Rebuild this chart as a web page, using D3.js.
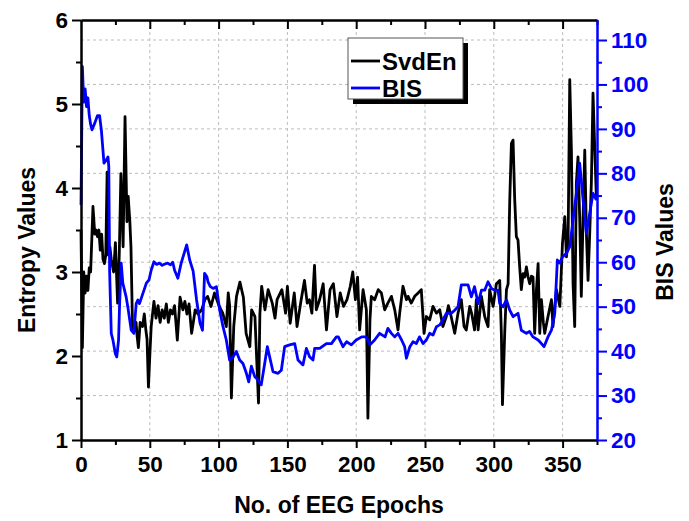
<!DOCTYPE html>
<html><head><meta charset="utf-8">
<script src="https://cdn.jsdelivr.net/npm/d3@7"></script>
<style>
body{margin:0;background:#fff}
svg{display:block}
text{font-family:"Liberation Sans",Arial,sans-serif;font-weight:bold}
</style>
</head><body>
<svg id="chart" width="689" height="521"></svg>
<script>
// ---------- data ----------
const svdEpochs = [0,1,2,3,4,5,6,7,8.7,10,11,12,13,14,15,16,17,18,19,20,21,22,23.7,25,26.6,27.8,29,30.6,32,33.4,34.3,35.5,36.3,37.5,38.8,40,40.7,41.7,43,44.7,46,47.2,48,49,50,51,53,54.5,56,57.5,59,60.5,62,63.5,65,66.5,68,70,72,74,75.5,77,78.5,80.4,83,85,87.7,90,92,94.5,97,100.5,103,105.6,107,108,109.3,111,113,115.5,118,120,122.7,124,126.4,129,130,131.3,133.7,136,139,141,142.5,146,148.7,150,152,155,157,160,162.4,164.4,166,167.8,169.7,171,173.4,176,178.4,181,183.4,186,188.4,190.8,193.3,195.7,197.5,199.4,201,202.5,205,207.4,208.5,210,211,213.4,216,218.3,220.7,223,225.6,228,230.4,231.6,234,236.5,237.7,240,242.5,245,247.3,249.3,251,253.4,255.8,258.3,260.7,263,265.5,267,269,271.6,274,276.4,278.4,280,282.5,284,286,287.3,288.6,291,293.4,295.8,297,299.5,301.9,304.3,305.5,306.3,308,309.2,310.4,311.6,312.8,314,315.2,316.4,317.6,318.8,320,321.3,322.5,323.7,324.9,326.1,327.3,328.5,329.7,331,332.2,333.4,334.6,336,337,339.4,341.9,343,345.5,348,349.9,351.6,352.8,354,355.2,356.4,357.6,358.8,360,361.2,362.4,363.6,364.9,366.1,367.3,368.5,369.7,370.9,372.1,373.4,374.6];
const svdValues = [3.5,2.1,3.0,2.75,2.95,2.78,3.05,3.0,3.78,3.45,3.5,3.42,3.5,3.26,3.45,3.15,3.1,3.2,4.19,3.2,3.3,3.15,3.0,3.35,2.63,3.2,4.17,3.3,4.85,3.6,3.9,3.6,3.3,2.31,2.3,2.4,2.25,2.1,2.4,2.35,2.5,2.3,2.2,1.63,2.0,2.35,2.65,2.45,2.6,2.4,2.55,2.45,2.62,2.4,2.55,2.5,2.6,2.19,2.7,2.55,2.65,2.5,2.62,2.27,2.55,2.5,2.55,2.67,2.71,2.59,2.75,2.59,2.51,2.35,2.75,2.6,1.5,2.35,2.71,2.88,2.7,2.27,2.11,2.55,2.47,1.44,2.5,2.83,2.55,2.79,2.63,2.45,2.67,2.79,2.51,2.83,2.39,2.75,2.35,2.67,2.9,2.63,2.67,2.51,3.08,2.55,2.67,2.86,2.31,2.79,2.86,2.47,2.75,2.59,2.67,2.83,3.0,2.67,2.94,2.31,2.79,2.55,1.26,2.43,2.71,2.67,2.79,2.75,2.55,2.63,2.71,2.55,2.31,2.51,2.83,2.67,2.71,2.63,2.71,2.75,2.79,2.27,2.47,2.43,2.59,2.51,2.55,2.35,2.47,2.6,2.47,2.27,2.51,2.67,2.35,2.31,2.59,2.5,2.31,2.67,2.31,2.71,2.47,2.35,2.79,2.59,2.86,2.9,2.27,1.42,2.31,2.79,2.86,3.86,4.53,4.57,3.86,3.42,3.38,3.06,2.79,2.98,2.94,3.06,2.94,2.86,2.95,2.94,2.27,2.79,3.1,2.27,2.67,2.4,2.27,2.47,2.67,2.35,2.79,2.59,3.34,3.66,3.18,3.38,5.29,4.45,2.86,2.35,4.06,4.37,3.66,2.71,3.66,4.45,3.46,2.9,3.46,4.06,5.13,4.45,3.86];

const bisEpochs = [0,1,2,3,4,5,6,7,8,10,12,13.5,14.8,16.7,18.4,19.6,20.2,20.8,22,23.2,24.9,26,27.3,28,29.2,30.4,32.8,34,36.5,38.4,40.1,41.3,42.5,45,47.5,49.4,51,53,55,57,59,61,63,65,66.7,68,70.4,72.8,76.8,79,81.5,84,86.5,88.3,89.8,91.5,92.3,94,96,98.4,100.8,103.2,105.6,108,110.5,112.9,115.3,117.7,120.2,121.9,123.8,126.2,128.6,131,133.5,135.4,137.1,139.5,143.2,145.6,148,151.6,155.3,157.7,161.3,163.8,166.2,168.6,169.8,173.5,178.3,182,185.6,187,190.4,193,196.5,200,204,207.4,210,213.4,217,221,223,225.6,228,230.4,233,235.2,236.5,239,241.3,243.7,246,248.6,251,253.4,255.8,258.3,260.7,263,265.5,269,271.6,274,276.4,279,281.3,283.7,286,288.6,291,293.4,295.8,298.3,300.7,303.1,304.3,306.7,309.2,311.6,314,317.6,320,323.7,326,328.5,332.2,334.6,336.5,339.4,341.9,344.3,346.2,348,349.9,352.8,355.2,357.6,360,362.4,364.9,367.3,369.7,372.1,374.6];
const bisValues = [72.9,104,96,99,95,97,93,91,89.8,91.3,93,93,89.7,82.3,83,83.7,81.5,58,44,42.5,39.5,38.7,42.5,50,59.8,55.3,52.2,50,44.7,44,50.7,51.5,50.7,53,55.3,56,58.2,60.1,59.5,59.8,59.3,59.6,59.8,59.4,60,58.2,56.4,59.8,63.9,60.5,58,51.5,46.3,44.7,57.5,56.7,55.6,54.5,54.1,54.5,49.2,45.5,42.5,38,38.7,39.9,38,37.2,35,33.1,36.6,34.3,33.5,32.4,37.2,41,38.7,35.4,35,35.7,41,41.4,41.7,38,36.9,40.6,38.7,38,40.6,40.6,41.7,41.7,43.2,43.2,41,42.1,41.4,42.5,43.2,43.2,41.4,42.5,44,43.2,45.1,44,43.2,44,42.5,41,38.4,41,42.1,41.7,43.2,41.7,42.5,44,43.6,45.5,45.9,47,48.5,48.5,49.2,50,54.9,54.9,54.9,52.2,54.5,50.7,53.7,53.7,55.6,54.1,53.7,53.7,50.7,50,51.5,49.2,47.75,48.5,44.7,44,44.4,43.2,42.5,41.7,41,43.2,44.7,48.5,60.5,59.8,61.2,62,63.5,69.5,75.5,82.3,74,66.5,71,75.5,74];

const xTicks = [0,50,100,150,200,250,300,350];
const xMinorTicks = [25,75,125,175,225,275,325,375];
const leftTicks = [1,2,3,4,5,6];
const leftMinorTicks = [1.5,2.5,3.5,4.5,5.5];
const rightTicks = [20,30,40,50,60,70,80,90,100,110];
const rightMinorTicks = [25,35,45,55,65,75,85,95,105];
const seriesNames = ["SvdEn","BIS"];

// ---------- layout ----------
const L = 81, R = 597, T = 20, B = 440;
const BLUE = "#0000ff";
const FF = '"Liberation Sans",Arial,sans-serif';
const svg = d3.select("#chart");

const x = d3.scaleLinear().domain([0,375]).range([L,R]);
const yL = d3.scaleLinear().domain([1,6]).range([B,T]);
const yR = d3.scaleLinear().domain([20,114.5]).range([B,T]);

// grid
const grid = svg.append("g").attr("stroke","#bdbdbd").attr("stroke-width",1).attr("stroke-dasharray","3,3");
grid.selectAll("line.v").data(xTicks.slice(1)).join("line")
  .attr("x1",d=>x(d)).attr("x2",d=>x(d)).attr("y1",T).attr("y2",B);
grid.selectAll("line.h").data(rightTicks.slice(1)).join("line")
  .attr("x1",L).attr("x2",R).attr("y1",d=>yR(d)).attr("y2",d=>yR(d));

// lines
const svdData = svdEpochs.map((e,i)=>[e,svdValues[i]]);
const bisData = bisEpochs.map((e,i)=>[e,bisValues[i]]);
svg.append("path").datum(svdData)
  .attr("fill","none").attr("stroke","#000").attr("stroke-width",2.8).attr("stroke-linejoin","round")
  .attr("d", d3.line().x(d=>x(d[0])).y(d=>yL(d[1])));
svg.append("path").datum(bisData)
  .attr("fill","none").attr("stroke",BLUE).attr("stroke-width",2.8).attr("stroke-linejoin","round")
  .attr("d", d3.line().x(d=>x(d[0])).y(d=>yR(d[1])));

// axes
function style(g, color, fs){
  g.select(".domain").attr("stroke",color).attr("stroke-width",2);
  g.selectAll(".tick line").attr("stroke",color).attr("stroke-width",2);
  g.selectAll(".tick text").attr("fill",color).style("font-size",fs+"px")
    .style("font-family",FF).style("font-weight","bold");
}
const fmt = d3.format("d");
// bottom
const gb = svg.append("g").attr("transform",`translate(0,${B})`)
  .call(d3.axisBottom(x).tickValues(xTicks).tickFormat(fmt).tickSize(8).tickPadding(8).tickSizeOuter(0));
style(gb,"#000",22.5);
const gbm = svg.append("g").attr("transform",`translate(0,${B})`)
  .call(d3.axisBottom(x).tickValues(xMinorTicks).tickSize(5).tickFormat("").tickSizeOuter(0));
style(gbm,"#000",22);
// top (inward ticks)
const gt = svg.append("g").attr("transform",`translate(0,${T})`)
  .call(d3.axisTop(x).tickValues(xTicks.slice(1)).tickSize(-9).tickFormat("").tickSizeOuter(0));
style(gt,"#000",22);
const gtm = svg.append("g").attr("transform",`translate(0,${T})`)
  .call(d3.axisTop(x).tickValues(xMinorTicks).tickSize(-5).tickFormat("").tickSizeOuter(0));
style(gtm,"#000",22);
// left
const gl = svg.append("g").attr("transform",`translate(${L},0)`)
  .call(d3.axisLeft(yL).tickValues(leftTicks).tickFormat(fmt).tickSize(9).tickPadding(4).tickSizeOuter(0));
style(gl,"#000",22.5);
const glm = svg.append("g").attr("transform",`translate(${L},0)`)
  .call(d3.axisLeft(yL).tickValues(leftMinorTicks).tickSize(5).tickFormat("").tickSizeOuter(0));
style(glm,"#000",22);
// right
const gr = svg.append("g").attr("transform",`translate(${R},0)`)
  .call(d3.axisRight(yR).tickValues(rightTicks).tickFormat(fmt).tickSize(10).tickPadding(4).tickSizeOuter(0));
style(gr,BLUE,22.5);
const grm = svg.append("g").attr("transform",`translate(${R},0)`)
  .call(d3.axisRight(yR).tickValues(rightMinorTicks).tickSize(5).tickFormat("").tickSizeOuter(0));
style(grm,BLUE,22);

// axis titles
svg.append("text").attr("x",(L+R)/2).attr("y",513).attr("text-anchor","middle")
  .style("font-size","23px").attr("fill","#000").text("No. of EEG Epochs");
svg.append("text").attr("transform","translate(35,250) rotate(-90)").attr("text-anchor","middle")
  .style("font-size","23px").attr("fill","#000").text("Entropy Values");
svg.append("text").attr("transform","translate(673,242) rotate(-90)").attr("text-anchor","middle")
  .style("font-size","23px").attr("fill","#000").text("BIS Values");

// legend
const lg = svg.append("g");
lg.append("rect").attr("x",353).attr("y",43).attr("width",115).attr("height",61).attr("fill","#000");
lg.append("rect").attr("x",348).attr("y",38).attr("width",115).attr("height",61).attr("fill","#fff").attr("stroke","#555").attr("stroke-width",1);
const legColors = ["#000",BLUE];
const legY = [61,88];
seriesNames.forEach((n,i)=>{
  lg.append("line").attr("x1",351).attr("x2",380).attr("y1",legY[i]).attr("y2",legY[i])
    .attr("stroke",legColors[i]).attr("stroke-width",2.8);
  lg.append("text").attr("x",382).attr("y",legY[i]+1).attr("dy","0.35em")
    .style("font-size","24px").attr("fill","#000").text(n);
});
</script>
</body></html>
